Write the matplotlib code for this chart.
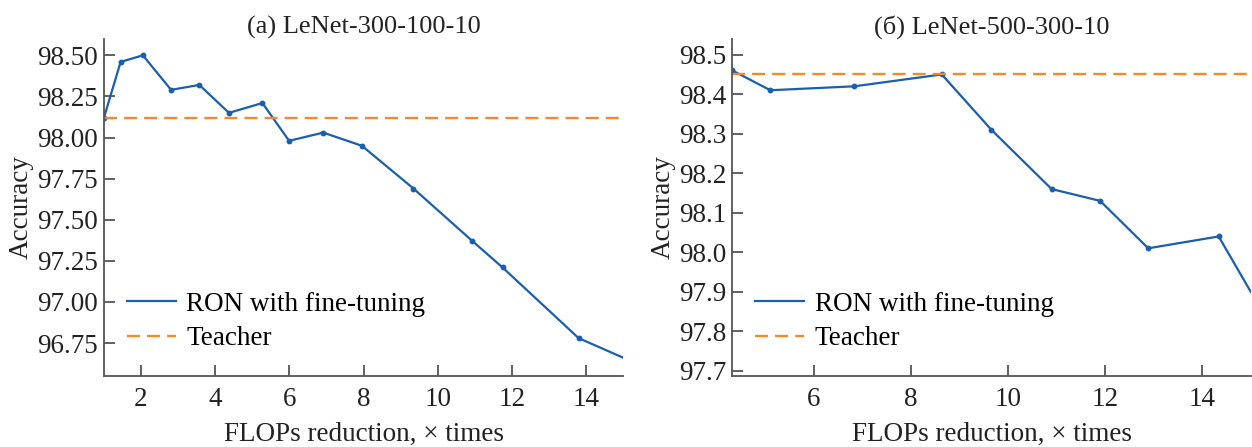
import matplotlib
matplotlib.use("Agg")
import matplotlib.pyplot as plt

# данные
flops_a = [1.0, 1.45, 2.05, 2.81, 3.57, 4.37, 5.27, 5.99, 6.91, 7.95, 9.34, 10.93, 11.74, 13.79, 15.0]
acc_a = [98.12, 98.46, 98.50, 98.29, 98.32, 98.15, 98.21, 97.98, 98.03, 97.95, 97.69, 97.37, 97.21, 96.78, 96.66]
teacher_a = 98.12

flops_b = [4.33, 5.11, 6.84, 8.64, 9.66, 10.90, 11.90, 12.89, 14.34, 15.0]
acc_b = [98.46, 98.41, 98.42, 98.45, 98.31, 98.16, 98.13, 98.01, 98.04, 97.90]
teacher_b = 98.45

titles = ["(a) LeNet-300-100-10", "(б) LeNet-500-300-10"]
xlabel = "FLOPs reduction, \u00d7 times"
ylabel = "Accuracy"
legend_labels = ["RON with fine-tuning", "Teacher"]

blue = "#1a5fad"
orange = "#f5892a"
txt = "#222222"

plt.rcParams["font.family"] = ["Liberation Serif", "DejaVu Serif"]
plt.rcParams["font.size"] = 19.5

fig = plt.figure(figsize=(12.52, 4.47), dpi=100)
ax1 = fig.add_axes([0.083, 0.159, 0.415, 0.754])
ax2 = fig.add_axes([0.585, 0.159, 0.414, 0.754])

panels = [
    (ax1, flops_a, acc_a, teacher_a, (1, 15), (96.55, 98.60), [2, 4, 6, 8, 10, 12, 14],
     [96.75, 97.0, 97.25, 97.5, 97.75, 98.0, 98.25, 98.5], "%.2f"),
    (ax2, flops_b, acc_b, teacher_b, (4.33, 15), (97.687, 98.54), [6, 8, 10, 12, 14],
     [97.7, 97.8, 97.9, 98.0, 98.1, 98.2, 98.3, 98.4, 98.5], "%.1f"),
]

for ax, xs, ys, teach, xl, yl, xt, yt, fmt in panels:
    ax.plot(xs, ys, color=blue, lw=1.6, label=legend_labels[0])
    # точки без последней (она на границе)
    ax.plot(xs[:-1], ys[:-1], "o", color=blue, ms=3.2)
    ax.axhline(teach, color=orange, lw=1.7, ls=(0, (5.5, 3)), label=legend_labels[1])
    ax.set_xlim(*xl)
    ax.set_ylim(*yl)
    ax.set_xticks(xt)
    ax.set_yticks(yt)
    ax.set_yticklabels([fmt % v for v in yt])
    for s in ["top", "right"]:
        ax.spines[s].set_visible(False)
    for s in ["left", "bottom"]:
        ax.spines[s].set_color("#555555")
        ax.spines[s].set_linewidth(1.3)
    ax.tick_params(direction="in", length=8, width=1.3, color="#555555",
                   labelcolor=txt)
    ax.tick_params(axis="x", pad=8)
    ax.tick_params(axis="y", pad=4)
    ax.set_xlabel(xlabel, color=txt, labelpad=7)
    ax.set_ylabel(ylabel, color=txt, labelpad=3)
    ax.legend(loc="center left", frameon=False, handlelength=1.8,
              handletextpad=0.4, borderpad=0, borderaxespad=0,
              bbox_to_anchor=(0.044, 0.162), labelspacing=0.35)

ax1.set_title(titles[0], color=txt, pad=3, fontsize=19)
ax2.set_title(titles[1], color=txt, pad=3, fontsize=19)

fig.savefig("out.png", dpi=100)
